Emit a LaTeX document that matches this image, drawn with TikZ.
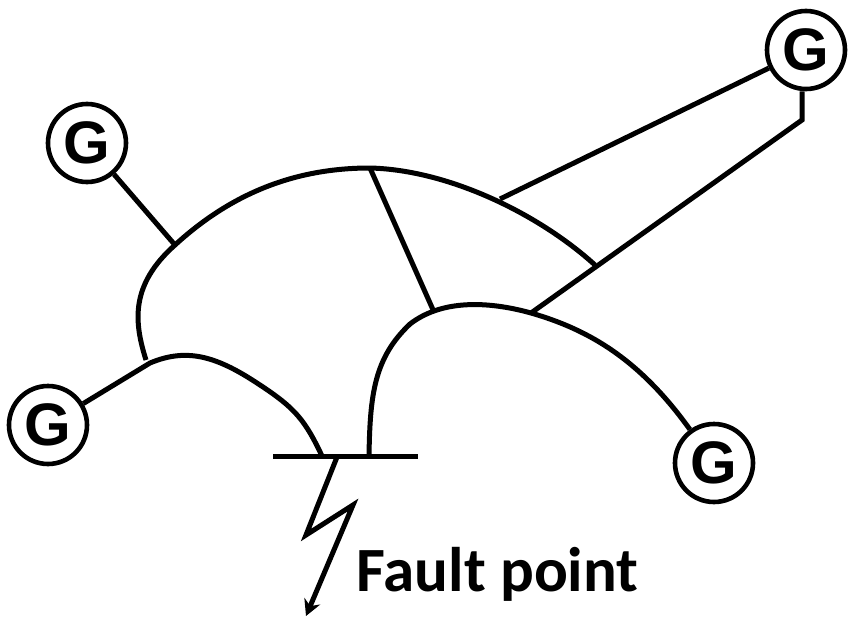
\documentclass[tikz,border=0pt]{standalone}
\usetikzlibrary{arrows.meta}
\usepackage{fontspec}
\setmainfont{Carlito}
\newfontfamily\gfont{Liberation Sans}
\begin{document}
\begin{tikzpicture}[x=1pt,y=-1pt,line width=5pt,
  gen/.style={circle,draw,fill=white,line width=4.6pt,minimum size=78pt,inner sep=0pt,font=\gfont\bfseries\fontsize{60}{60}\selectfont},
  wire/.style={line join=miter}]
\useasboundingbox (0,0) rectangle (848,618);
\coordinate (busl) at (273,456.5);
\coordinate (busr) at (418,456.5);
\coordinate (tap1) at (322,456);
\coordinate (tap2) at (369,456);
\coordinate (top) at (370,168);
\coordinate (a) at (175,245);
\coordinate (b) at (146,360);
\coordinate (c) at (500,199);
\coordinate (d) at (595,265);
\coordinate (e) at (434,312);
\coordinate (f) at (531,313);
\coordinate (k) at (802,120);
\coordinate (p) at (150,363);
\node[gen] (g1) at (87,143) {G};
\node[gen] (g2) at (48,425) {G};
\node[gen] (g3) at (714,463) {G};
\node[gen] (g4) at (806,50) {G};
\draw[wire] (busl) -- (busr);
\draw[wire] (b) .. controls (134,322) and (130,285) .. (a) .. controls (235,190) and (300,168) .. (top) .. controls (450,170) and (540,215) .. (d);
\draw[wire] (top) -- (e);
\draw[wire] (g1) -- (a);
\draw[wire] (g4) -- (c);
\draw[wire] (g4.south -| k) -- (k) -- (f);
\draw[wire] (g2) -- (p) .. controls (188,347) and (218,357) .. (260,385) .. controls (295,408) and (305,420) .. (tap1);
\draw[wire] (tap2) .. controls (370,395) and (374,358) .. (410,324) .. controls (445,297) and (495,303) .. (f) .. controls (590,330) and (640,360) .. (g3);
\coordinate (z0) at (337,457);
\coordinate (z1) at (306,535);
\coordinate (z2) at (353,505);
\coordinate (z3) at (306,616);
\draw[wire,-{Stealth[length=16pt,width=17pt]}] (z0) -- (z1) -- (z2) -- (z3);
\node[font=\bfseries\fontsize{63}{63}\selectfont,anchor=west,inner sep=0pt] (lbl) at (354,574) {Fault point};
\end{tikzpicture}
\end{document}
